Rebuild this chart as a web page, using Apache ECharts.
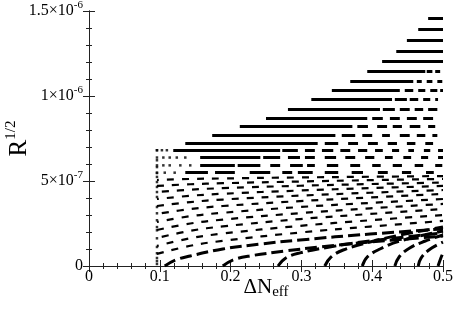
<!DOCTYPE html>
<html>
<head>
<meta charset="utf-8">
<script src="https://cdn.jsdelivr.net/npm/echarts@6/dist/echarts.min.js"></script>
<style>
  html, body { margin: 0; padding: 0; background: #fff; }
  #chart { width: 454px; height: 311px; }
</style>
</head>
<body>
<div id="chart"></div>
<script>
// y values are in units of 1e-7, x is Delta N_eff
var yTickVals = [0, 5, 10, 15];
var yTickMant = ['0', '5', '1', '1.5'];
var yTickExp = ['', '-7', '-6', '-6'];

// horizontal rows (upper part), y level and pieces along x
var rowY = [14.59, 13.9, 13.28, 12.65, 12.04, 11.45, 10.88, 10.32, 9.79, 9.24, 8.71, 8.22, 7.72, 7.25, 6.81, 6.38, 5.92, 5.49];
var rowSegs = [
    [[0.479, 0.5]],
    [[0.465, 0.5]],
    [[0.449, 0.5]],
    [[0.434, 0.5]],
    [[0.414, 0.5]],
    [[0.393, 0.475], [0.477, 0.485], [0.489, 0.496]],
    [[0.369, 0.458], [0.463, 0.470], [0.477, 0.485], [0.492, 0.499]],
    [[0.343, 0.439], [0.446, 0.458], [0.465, 0.475], [0.482, 0.492], [0.496, 0.5]],
    [[0.314, 0.428], [0.432, 0.449], [0.453, 0.465], [0.472, 0.482], [0.489, 0.493]],
    [[0.281, 0.411], [0.415, 0.432], [0.439, 0.453], [0.460, 0.472], [0.479, 0.492]],
    [[0.250, 0.393], [0.400, 0.415], [0.425, 0.439], [0.449, 0.463], [0.472, 0.486]],
    [[0.213, 0.372], [0.379, 0.394], [0.407, 0.421], [0.429, 0.442], [0.453, 0.468], [0.479, 0.489]],
    [[0.174, 0.348], [0.357, 0.376], [0.386, 0.400], [0.414, 0.425], [0.439, 0.453], [0.463, 0.475], [0.485, 0.492]],
    [[0.136, 0.323], [0.333, 0.352], [0.366, 0.380], [0.394, 0.408], [0.422, 0.435], [0.449, 0.461], [0.475, 0.486]],
    [[0.119, 0.270], [0.273, 0.295], [0.305, 0.319], [0.329, 0.345], [0.355, 0.369], [0.380, 0.393], [0.404, 0.415], [0.428, 0.438], [0.451, 0.459], [0.473, 0.482], [0.493, 0.5]],
    [[0.157, 0.242], [0.246, 0.270], [0.281, 0.298], [0.305, 0.319], [0.333, 0.349], [0.362, 0.376], [0.390, 0.403], [0.418, 0.429], [0.444, 0.455], [0.469, 0.479], [0.493, 0.5]],
    [[0.157, 0.206], [0.210, 0.242], [0.256, 0.270], [0.284, 0.302], [0.308, 0.319], [0.336, 0.352], [0.369, 0.383], [0.400, 0.412], [0.429, 0.442], [0.460, 0.472], [0.489, 0.499]],
    [[0.136, 0.168], [0.178, 0.206], [0.227, 0.256], [0.273, 0.287], [0.295, 0.316], [0.333, 0.352], [0.371, 0.387], [0.408, 0.422], [0.442, 0.455], [0.476, 0.487]]
];
// dotted starts of rows 15-18
var rowDots = [
    [0.096, 0.103, 0.110],
    [0.096, 0.105, 0.114, 0.124, 0.136],
    [0.096, 0.105, 0.114, 0.129, 0.143],
    [0.096, 0.107, 0.121]
];

// dotted column near dNeff = 0.096
var colDotX = 0.096;
var colDotY = [6.81, 6.22, 5.82, 5.47, 5.24, 4.94, 4.65, 4.35, 4.06, 3.47, 3.1, 2.69, 2.29, 2.1, 1.63, 1.12, 0.75, 0.47, 0.29, 0.12];

// rising curves starting at the left edge
var leftCurves = [
    [[0.096, 0.71], [0.143, 1.19], [0.189, 1.48], [0.298, 1.97], [0.397, 2.32], [0.5, 2.65]],
    [[0.096, 1.18], [0.143, 1.63], [0.189, 1.91], [0.298, 2.36], [0.397, 2.69], [0.5, 3.0]],
    [[0.096, 1.65], [0.143, 2.07], [0.189, 2.33], [0.298, 2.76], [0.397, 3.06], [0.5, 3.35]],
    [[0.096, 2.12], [0.143, 2.5], [0.189, 2.73], [0.298, 3.11], [0.397, 3.39], [0.5, 3.65]],
    [[0.096, 2.59], [0.143, 2.93], [0.189, 3.13], [0.298, 3.47], [0.397, 3.71], [0.5, 3.94]],
    [[0.096, 3.06], [0.143, 3.35], [0.189, 3.53], [0.298, 3.82], [0.397, 4.03], [0.5, 4.24]],
    [[0.096, 3.53], [0.143, 3.76], [0.189, 3.91], [0.298, 4.14], [0.397, 4.31], [0.5, 4.47]],
    [[0.096, 3.94], [0.143, 4.13], [0.189, 4.25], [0.298, 4.44], [0.397, 4.58], [0.5, 4.71]],
    [[0.096, 4.35], [0.143, 4.49], [0.189, 4.58], [0.298, 4.72], [0.397, 4.82], [0.5, 4.91]],
    [[0.096, 4.71], [0.143, 4.81], [0.189, 4.87], [0.298, 4.97], [0.397, 5.05], [0.5, 5.12]],
    [[0.096, 5.06], [0.143, 5.12], [0.189, 5.15], [0.298, 5.21], [0.397, 5.25], [0.5, 5.29]]
];

// steeper curves starting on the x axis
var bottomCurves = [
    [[0.107, 0], [0.122, 0.35], [0.143, 0.59], [0.189, 1.0], [0.242, 1.29], [0.298, 1.53], [0.397, 1.88], [0.5, 2.18]],
    [[0.189, 0], [0.203, 0.35], [0.227, 0.59], [0.277, 0.88], [0.326, 1.12], [0.397, 1.41], [0.5, 1.76]],
    [[0.267, 0], [0.278, 0.47], [0.298, 0.77], [0.340, 1.12], [0.397, 1.47], [0.5, 1.94]],
    [[0.333, 0], [0.342, 0.53], [0.359, 0.94], [0.397, 1.41], [0.439, 1.82], [0.5, 2.29]],
    [[0.386, 0], [0.393, 0.53], [0.411, 1.0], [0.439, 1.47], [0.5, 2.06]],
    [[0.432, 0], [0.438, 0.53], [0.453, 1.06], [0.475, 1.47], [0.5, 1.82]],
    [[0.465, 0], [0.469, 0.47], [0.482, 1.0], [0.5, 1.41]],
    [[0.493, 0], [0.497, 0.47], [0.5, 0.77]]
];

var serif = 'Liberation Serif';
var myChart = echarts.init(document.getElementById('chart'));

var segData = [];
rowSegs.forEach(function (segs, i) {
    segs.forEach(function (s) {
        segData.push({ coords: [[s[0], rowY[i]], [s[1], rowY[i]]] });
    });
});
var dotData = [];
rowDots.forEach(function (xs, i) {
    xs.forEach(function (x) { dotData.push([x, rowY[14 + i]]); });
});
colDotY.forEach(function (y) { dotData.push([colDotX, y]); });

var series = [{
    type: 'lines',
    coordinateSystem: 'cartesian2d',
    data: segData,
    lineStyle: { color: '#000', width: 3, opacity: 1 },
    silent: true
}, {
    type: 'scatter',
    data: dotData,
    symbol: 'rect',
    symbolSize: 2.5,
    itemStyle: { color: '#000' },
    silent: true
}];
leftCurves.forEach(function (c, i) {
    series.push({
        type: 'line', data: c, smooth: 0.4, showSymbol: false, silent: true,
        lineStyle: { color: '#000', width: 2.2, type: [7, 8], dashOffset: i * 5 }
    });
});
bottomCurves.forEach(function (c) {
    series.push({
        type: 'line', data: c, smooth: 0.4, showSymbol: false, silent: true,
        lineStyle: { color: '#000', width: 3, type: [12, 5] }
    });
});

var frame = { lineStyle: { color: '#222', width: 1 } };
var option = {
    animation: false,
    grid: { left: 89, right: 11, top: 11, bottom: 45, containLabel: false, outerBoundsMode: 'none' },
    xAxis: [{
        type: 'value', min: 0, max: 0.5, interval: 0.1,
        axisLine: frame,
        axisTick: { inside: true, length: 6, lineStyle: { color: '#222' } },
        minorTick: { show: true, splitNumber: 5, length: 3, lineStyle: { color: '#222' } },
        splitLine: { show: false },
        axisLabel: { color: '#000', fontFamily: serif, fontSize: 16, margin: 3 },
        name: '{a|ΔN}{b|eff}',
        nameLocation: 'middle',
        nameMoveOverlap: false,
        nameGap: 9,
        nameTextStyle: {
            color: '#000', fontFamily: serif,
            rich: {
                a: { fontSize: 21, fontFamily: serif, color: '#000' },
                b: { fontSize: 15, fontFamily: serif, color: '#000', padding: [10, 0, 0, 0] }
            }
        }
    }, {
        type: 'value', min: 0, max: 0.5, interval: 0.1, position: 'top',
        axisLine: frame,
        axisTick: { inside: true, length: 6, lineStyle: { color: '#222' } },
        minorTick: { show: true, splitNumber: 5, length: 3, lineStyle: { color: '#222' } },
        splitLine: { show: false },
        axisLabel: { show: false }
    }],
    yAxis: [{
        type: 'value', min: 0, max: 15, interval: 5,
        axisLine: frame,
        axisTick: { inside: true, length: 6, lineStyle: { color: '#222' } },
        minorTick: { show: true, splitNumber: 5, length: 3, lineStyle: { color: '#222' } },
        splitLine: { show: false },
        axisLabel: {
            color: '#000', margin: 6,
            formatter: function (v) {
                var i = yTickVals.indexOf(v);
                if (i < 0) return '';
                if (!yTickExp[i]) return '{m|' + yTickMant[i] + '}';
                return '{m|' + yTickMant[i] + '×10}{e|' + yTickExp[i] + '}';
            },
            rich: {
                m: { fontSize: 16, fontFamily: serif, color: '#000' },
                e: { fontSize: 11, fontFamily: serif, color: '#000', padding: [0, 0, 12, 0] }
            }
        },
        name: '{a|R}{b|1/2}',
        nameLocation: 'middle',
        nameRotate: 90,
        nameMoveOverlap: false,
        nameGap: 54,
        nameTextStyle: {
            color: '#000', fontFamily: serif,
            rich: {
                a: { fontSize: 25, fontFamily: serif, color: '#000' },
                b: { fontSize: 15, fontFamily: serif, color: '#000', padding: [0, 0, 16, 0] }
            }
        }
    }, {
        type: 'value', min: 0, max: 15, interval: 5, position: 'right',
        axisLine: frame,
        axisTick: { inside: true, length: 6, lineStyle: { color: '#222' } },
        minorTick: { show: true, splitNumber: 5, length: 3, lineStyle: { color: '#222' } },
        splitLine: { show: false },
        axisLabel: { show: false }
    }],
    series: series
};

option && myChart.setOption(option);
</script>
</body>
</html>
